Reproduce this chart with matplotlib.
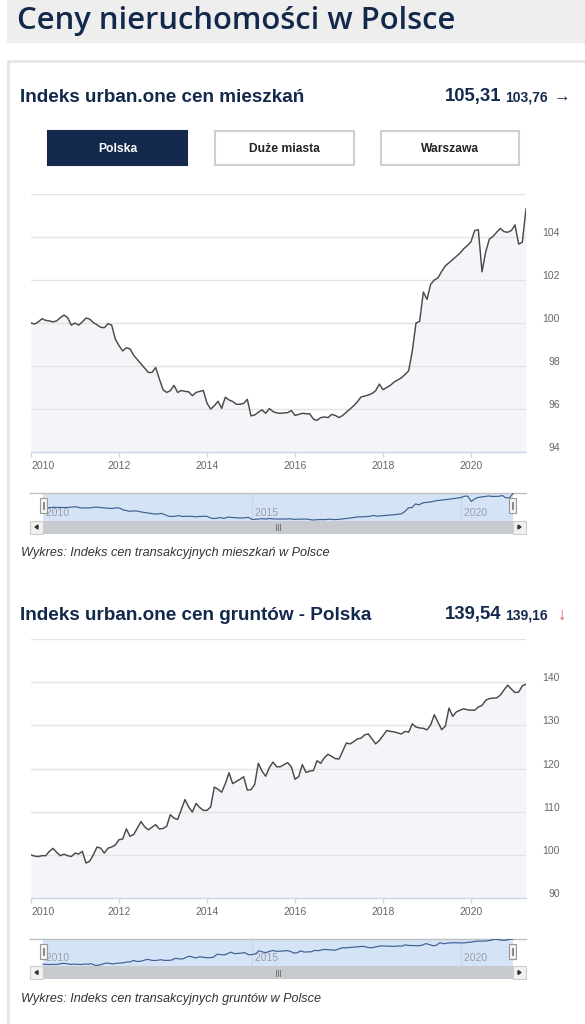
import matplotlib
matplotlib.use("Agg")
import matplotlib.pyplot as plt
import matplotlib.transforms as mtrans
from matplotlib.patches import Rectangle, Polygon
import numpy as np

# ---------------- data ----------------
start_year = 2010
mieszkania = [
    100.00, 99.95, 100.05, 100.20, 100.12, 100.10, 100.05, 100.10, 100.25, 100.37, 100.25, 99.90,
    100.00, 99.90, 100.05, 100.23, 100.18, 100.02, 99.92, 99.80, 99.78, 99.97, 99.90, 99.25,
    98.95, 98.70, 98.85, 98.80, 98.50, 98.30, 98.10, 97.90, 97.70, 97.70, 97.93, 97.40,
    96.90, 96.77, 96.85, 97.10, 96.77, 96.86, 96.82, 96.80, 96.62, 96.77, 96.82, 96.86,
    96.27, 96.00, 96.15, 96.36, 96.03, 96.55, 96.42, 96.35, 96.22, 96.22, 96.26, 96.45,
    95.68, 95.72, 95.85, 95.96, 95.80, 96.02, 95.88, 95.82, 95.80, 95.82, 95.83, 95.93,
    95.70, 95.75, 95.80, 95.78, 95.78, 95.53, 95.47, 95.60, 95.63, 95.60, 95.75, 95.70,
    95.60, 95.70, 95.85, 96.00, 96.15, 96.33, 96.56, 96.60, 96.65, 96.72, 96.85, 97.16,
    96.90, 97.00, 97.10, 97.25, 97.35, 97.45, 97.60, 97.78, 98.70, 100.00, 100.08, 101.44,
    101.10, 101.80, 102.00, 102.10, 102.40, 102.66, 102.80, 102.95, 103.10, 103.25, 103.45, 103.60,
    103.78, 104.30, 104.34, 102.38, 103.30, 103.90, 104.03, 104.22, 104.40, 104.25, 104.22, 104.30,
    104.56, 103.67, 103.76, 105.31,
]
grunty = [
    100.0, 99.7, 99.6, 99.8, 99.8, 100.8, 101.5, 100.6, 99.8, 100.15, 99.8, 99.6,
    100.4, 100.2, 100.8, 98.1, 98.5, 100.0, 101.8, 101.55, 100.4, 101.55, 101.8, 102.3,
    103.5, 103.65, 106.0, 104.3, 104.7, 106.2, 107.7, 106.5, 105.8, 106.4, 107.0, 106.0,
    106.1, 106.6, 109.3, 108.5, 108.2, 110.5, 112.8, 111.1, 109.9, 111.9, 111.0, 110.3,
    110.3, 111.1, 115.7, 115.2, 114.5, 116.5, 119.0, 116.5, 117.0, 117.5, 118.1, 115.0,
    115.1, 116.3, 121.2, 119.4, 118.2, 120.2, 121.5, 120.4, 120.4, 120.9, 121.35, 120.4,
    117.5, 118.1, 120.9, 119.1, 119.4, 119.5, 121.8, 121.2, 122.5, 123.3, 122.8, 122.3,
    122.2, 124.0, 125.9, 125.7, 126.2, 126.85, 127.0, 127.8, 128.0, 126.85, 125.7, 126.5,
    127.6, 128.8, 128.6, 128.5, 128.25, 128.0, 128.6, 128.4, 130.35, 129.6, 129.4, 129.3,
    128.95, 130.1, 132.45, 130.7, 129.0, 129.8, 134.0, 132.1, 133.1, 133.5, 133.85, 133.6,
    133.5, 133.5, 134.25, 134.6, 135.8, 136.2, 136.3, 136.35, 137.0, 138.2, 139.3, 138.4,
    137.6, 137.7, 139.16, 139.54,
]
x_ticks_years = [2010, 2012, 2014, 2016, 2018, 2020]
nav_years = [2010, 2015, 2020]
y_ticks_1 = [94, 96, 98, 100, 102, 104, 106]
y_ticks_2 = [90, 100, 110, 120, 130, 140, 150]
buttons = ["Polska", "Duże miasta", "Warszawa"]

page_title = "Ceny nieruchomości w Polsce"
title_1 = "Indeks urban.one cen mieszkań"
title_2 = "Indeks urban.one cen gruntów - Polska"
val_1, prev_1, arrow_1 = "105,31", "103,76", "→"
val_2, prev_2, arrow_2 = "139,54", "139,16", "↓"
caption_1 = "Wykres: Indeks cen transakcyjnych mieszkań w Polsce"
caption_2 = "Wykres: Indeks cen transakcyjnych gruntów w Polsce"

# ---------------- layout helpers ----------------
W, H = 585, 1024
fig = plt.figure(figsize=(W / 100, H / 100), dpi=100)
fig.patch.set_facecolor("white")
FONT = ["Liberation Sans", "DejaVu Sans"]
NAVY = "#13294b"


def px_axes(x0, y0, x1, y1, **kw):
    return fig.add_axes([x0 / W, 1 - y1 / H, (x1 - x0) / W, (y1 - y0) / H], **kw)


def frect(x0, y0, x1, y1, **kw):
    r = Rectangle((x0 / W, 1 - y1 / H), (x1 - x0) / W, (y1 - y0) / H,
                  transform=fig.transFigure, **kw)
    fig.patches.append(r)
    return r


def ftext(x, y, s, **kw):
    kw.setdefault("family", FONT)
    return fig.text(x / W, 1 - y / H, s, **kw)


def fline(xs, ys, **kw):
    fig.lines.append(plt.Line2D([x / W for x in xs], [1 - y / H for y in ys],
                                transform=fig.transFigure, **kw))


# page header band and card
frect(7, 0, 590, 43, facecolor="#eeeeee", edgecolor="none", zorder=0)
ftext(17, 21, page_title, fontsize=22.3, color=NAVY, va="center",
      family=["Open Sans", "DejaVu Sans"], weight="semibold")
frect(8, 61, 640, 1100, facecolor="none", edgecolor="#e6e6e6", lw=2, zorder=0)


def header(y, title, val, prev, arrow, arrow_color):
    ftext(20, y, title, fontsize=13.6, weight="bold", color=NAVY, va="center")
    ftext(445, y, val, fontsize=13.3, weight="bold", color=NAVY, va="center")
    ftext(505, y + 1, prev, fontsize=10, weight="bold", color=NAVY, va="center")
    ftext(arrow[1], y, arrow[0], fontsize=12, color=arrow_color, va="center")


header(97, title_1, val_1, prev_1, (arrow_1, 554), NAVY)
header(615, title_2, val_2, prev_2, (arrow_2, 558), "#d9534f")

# buttons
bx = [(48, 187), (215, 354), (381, 519)]
for (x0, x1), lab in zip(bx, buttons):
    active = lab == buttons[0]
    frect(x0, 131, x1, 165, facecolor=NAVY if active else "white",
          edgecolor=NAVY if active else "#cfcfcf", lw=1.5, zorder=1)
    ftext((x0 + x1) / 2, 148.5, lab, fontsize=8.7, weight="bold",
          color="white" if active else "#222222", ha="center", va="center")


def main_chart(values, y0, y1, yticks):
    x = start_year + np.arange(len(values)) / 12.0
    ax = px_axes(31, y0, 526, y1)
    ax.set_facecolor("white")
    ax.set_xlim(x[0], x[-1])
    ax.set_ylim(yticks[0], yticks[-1])
    ax.fill_between(x, values, yticks[0], color="#f4f5f8", lw=0, zorder=1)
    ax.plot(x, values, color="#4a4a4a", lw=1.05, zorder=3)
    for s in ["top", "left", "right"]:
        ax.spines[s].set_visible(False)
    ax.spines["bottom"].set_color("#ccd6eb")
    ax.spines["bottom"].set_linewidth(1)
    ax.set_yticks(yticks)
    ax.set_yticklabels([str(t) for t in yticks[:-1]] + [""])
    ax.yaxis.tick_right()
    ax.grid(axis="y", color="#e3e3e3", lw=1, zorder=0)
    ax.tick_params(axis="y", length=0, pad=24.5, labelsize=7.5,
                   labelcolor="#666666")
    for lbl in ax.get_yticklabels():
        lbl.set_ha("right")
        lbl.set_family(FONT)
        lbl.set_transform(lbl.get_transform() +
                          mtrans.ScaledTranslation(0, 5 / 100, fig.dpi_scale_trans))
    ax.set_xticks(x_ticks_years)
    ax.set_xticklabels([str(t) for t in x_ticks_years])
    ax.tick_params(axis="x", length=3.6, width=1, color="#ccd6eb", pad=3,
                   labelsize=7.5, labelcolor="#666666")
    for i, lbl in enumerate(ax.get_xticklabels()):
        lbl.set_family(FONT)
        if i == 0:
            lbl.set_ha("left")
    return ax


def navigator(values, top):
    bottom = top + 27.5
    x = start_year + np.arange(len(values)) / 12.0
    L, R = 30, 526
    sl, sr = 43, 513
    ppy = (sr - sl) / (x[-1] - x[0])
    ax = px_axes(L, top, R, bottom)
    ax.set_xlim(x[0] - (sl - L) / ppy, x[-1] + (R - sr) / ppy)
    vmin, vmax = min(values), max(values)
    pad = (vmax - vmin) * 0.02
    ax.set_ylim(vmin - pad, vmax + pad)
    ax.set_facecolor("white")
    ax.axvspan(x[0], x[-1], color="#d5e3f6", lw=0, zorder=0)
    for yr in nav_years:
        if yr != nav_years[0]:
            ax.axvline(yr, color="#c8d3e3", lw=0.6, zorder=1)
        ax.text(yr, 0.28, " " + str(yr), transform=ax.get_xaxis_transform(),
                fontsize=7.5, color="#9aa0a8", ha="left", va="center",
                family=FONT, zorder=2)
    ax.plot(x, values, color="#3d5f91", lw=0.85, zorder=3)
    for s in ["left", "right", "bottom"]:
        ax.spines[s].set_visible(False)
    ax.spines["top"].set_color("#c0c0c0")
    ax.spines["top"].set_linewidth(1)
    ax.set_xticks([])
    ax.set_yticks([])
    # handles
    for hx in (sl - 3, sr - 4):
        frect(hx, top + 5, hx + 7, top + 20, facecolor="#f2f2f2",
              edgecolor="#999999", lw=0.8, zorder=5)
        fline([hx + 2.8, hx + 2.8], [top + 9, top + 16], color="#777777", lw=0.6, zorder=6)
        fline([hx + 4.3, hx + 4.3], [top + 9, top + 16], color="#777777", lw=0.6, zorder=6)
    # scrollbar
    s0, s1 = bottom, bottom + 13
    frect(sl, s0, sr, s1, facecolor="#c7cbd0", edgecolor="none", zorder=4)
    frect(L, s0, sl, s1, facecolor="#f1f1f1", edgecolor="#cccccc", lw=0.8, zorder=4)
    frect(sr, s0, R, s1, facecolor="#f1f1f1", edgecolor="#cccccc", lw=0.8, zorder=4)
    cy = (s0 + s1) / 2
    fig.patches.append(Polygon([((L + 8) / W, 1 - (cy - 2) / H), ((L + 5) / W, 1 - cy / H),
                                ((L + 8) / W, 1 - (cy + 2) / H)], closed=True,
                               transform=fig.transFigure, color="#333333", zorder=5))
    fig.patches.append(Polygon([((R - 8) / W, 1 - (cy - 2) / H), ((R - 5) / W, 1 - cy / H),
                                ((R - 8) / W, 1 - (cy + 2) / H)], closed=True,
                               transform=fig.transFigure, color="#333333", zorder=5))
    mid = (sl + sr) / 2
    for dx in (-2, 0, 2):
        fline([mid + dx, mid + dx], [cy - 3, cy + 3], color="#666666", lw=0.6, zorder=6)
    return ax


main_chart(mieszkania, 194, 452, y_ticks_1)
navigator(mieszkania, 493)
ftext(21, 553, caption_1, fontsize=9.1, style="italic", color="#333333", va="center")

main_chart(grunty, 639, 898, y_ticks_2)
navigator(grunty, 938.5)
ftext(21, 999, caption_2, fontsize=9.1, style="italic", color="#333333", va="center")

fig.savefig("out.png", dpi=100, facecolor="white")
